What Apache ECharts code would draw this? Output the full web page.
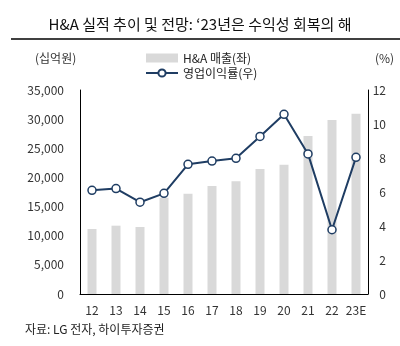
<!DOCTYPE html>
<html><head><meta charset="utf-8">
<script src="https://cdn.jsdelivr.net/npm/echarts@6/dist/echarts.min.js"></script>
<style>html,body{margin:0;padding:0;background:#fff}#c{width:400px;height:346px}</style>
</head><body><div id="c"></div>
<script>
const categories = ['12','13','14','15','16','17','18','19','20','21','22','23E'];
const sales = [11150, 11720, 11500, 16520, 17200, 18530, 19330, 21450, 22190, 27100, 29850, 30940];
const margin = [6.1, 6.2, 5.4, 5.92, 7.63, 7.82, 7.98, 9.27, 10.57, 8.24, 3.78, 8.04];
const leftTicks = {min: 0, max: 35000, interval: 5000};
const rightTicks = {min: 0, max: 12, interval: 2};

const font = "'Noto Sans CJK KR', 'Noto Sans', sans-serif";
const chart = echarts.init(document.getElementById('c'));
chart.setOption({
  animation: false,
  textStyle: {fontFamily: font},
  title: [
    {text: "H&A 실적 추이 및 전망: ‘23년은 수익성 회복의 해", left: 'center', top: 12,
     textStyle: {fontFamily: font, fontSize: 15, fontWeight: 'normal', color: '#111'}},
    {text: '(십억원)', left: 30, top: 47, textStyle: {fontFamily: font, fontSize: 12, fontWeight: 'normal', color: '#333'}},
    {text: '(%)', left: 370, top: 47, textStyle: {fontFamily: font, fontSize: 12, fontWeight: 'normal', color: '#333'}},
    {text: '자료: LG 전자, 하이투자증권', left: 20, top: 318, textStyle: {fontFamily: font, fontSize: 12, fontWeight: 'normal', color: '#222'}}
  ],
  graphic: [{type: 'line', shape: {x1: 11, y1: 39, x2: 400, y2: 39}, style: {stroke: '#000', lineWidth: 1.3}}],
  legend: {
    orient: 'vertical', left: 140, top: 47, itemGap: 3, itemWidth: 32, itemHeight: 9,
    textStyle: {fontFamily: font, fontSize: 12, color: '#222'},
    data: [{name: 'H&A 매출(좌)', icon: 'rect'}, {name: '영업이익률(우)'}]
  },
  grid: {left: 80, top: 90, width: 288, height: 204},
  xAxis: {
    type: 'category', data: categories,
    axisLine: {lineStyle: {color: '#000', width: 1}},
    axisTick: {inside: true, length: 4, interval: 0, lineStyle: {color: '#000'}},
    axisLabel: {color: '#333', fontSize: 12, margin: 10, interval: 0}
  },
  yAxis: [
    {type: 'value', ...leftTicks, splitLine: {show: false},
     axisLine: {show: true, lineStyle: {color: '#000'}}, axisTick: {show: false},
     axisLabel: {color: '#333', fontSize: 12, margin: 16,
       formatter: v => v.toLocaleString('en-US')}},
    {type: 'value', ...rightTicks, position: 'right', splitLine: {show: false},
     axisLine: {show: true, lineStyle: {color: '#000'}}, axisTick: {show: false},
     axisLabel: {color: '#333', fontSize: 12, margin: 18, align: 'right'}}
  ],
  series: [
    {name: 'H&A 매출(좌)', type: 'bar', data: sales, barWidth: 9, itemStyle: {color: '#d9d9d9'}},
    {name: '영업이익률(우)', type: 'line', yAxisIndex: 1, data: margin,
     symbol: 'circle', symbolSize: 8,
     lineStyle: {color: '#1f3d63', width: 2},
     itemStyle: {color: '#fff', borderColor: '#1f3d63', borderWidth: 1.5}}
  ]
});
</script></body></html>
